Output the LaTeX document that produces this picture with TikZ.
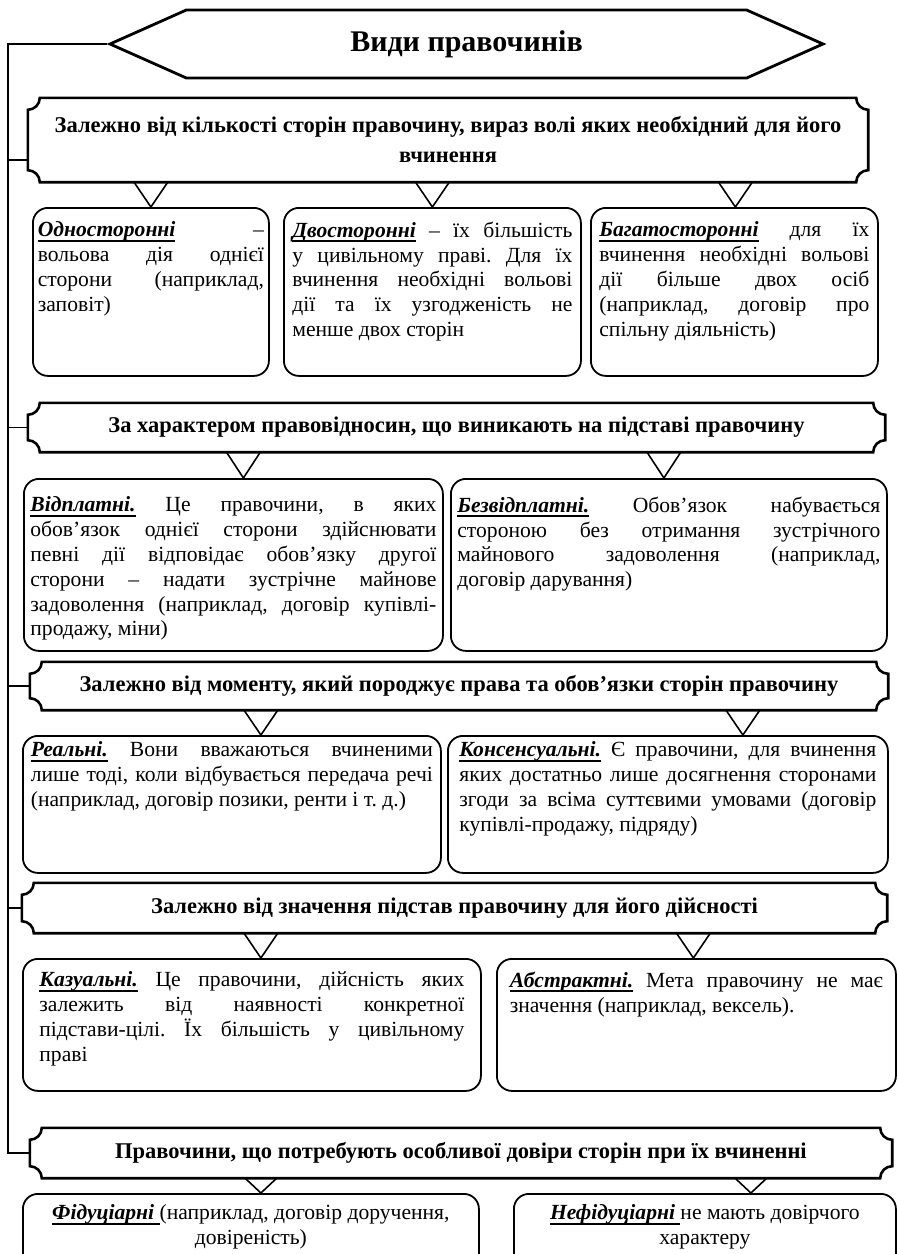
\documentclass[tikz,border=0pt]{standalone}
\usepackage{fontspec}
\setmainfont{Liberation Serif}
\usetikzlibrary{shapes.symbols, calc}
\tikzset{
  head/.style={signal, signal to=west and east, signal pointer angle=48, draw,
               line width=2.8pt, minimum width=713pt, minimum height=68pt, inner sep=0pt,
               font=\fontsize{30}{36}\selectfont\bfseries},
  cat/.style={inner sep=0pt, align=center, font=\fontsize{22.5}{30}\selectfont\bfseries},
  plaque/.style={line width=2.6pt},
  item/.style={draw, line width=1.8pt, rounded corners=15pt, inner sep=0pt, anchor=north west,
               font=\fontsize{21.6}{24.8}\selectfont},
  link/.style={line width=1.6pt},
  tri/.style={line width=1.6pt, line join=miter},
}
\newcommand{\term}[1]{\leavevmode\setbox0=\hbox{\textbf{\textit{#1}}}\rlap{\rule[-5pt]{\wd0}{2pt}}\box0\relax}
\newcommand{\celltxt}[3]{\parbox[c][#1pt][t]{#2pt}{\frenchspacing #3}}
\newcommand{\plaqueframe}[1]{%
  \draw[plaque] ([xshift=12pt]#1.north west) -- ([xshift=-12pt]#1.north east)
    arc[start angle=180, end angle=270, radius=12pt] -- ([yshift=12pt]#1.south east)
    arc[start angle=90, end angle=180, radius=12pt] -- ([xshift=12pt]#1.south west)
    arc[start angle=0, end angle=90, radius=12pt] -- ([yshift=-12pt]#1.north west)
    arc[start angle=270, end angle=360, radius=12pt] -- cycle;}

\begin{document}
\begin{tikzpicture}[x=1pt, y=1pt]
  \useasboundingbox (0,0) rectangle (897,-1254);
  \clip (0,0) rectangle (897,-1254);
  \node[head] (title) at (466.5,-44) {Види правочинів};

  \node[cat, minimum width=840pt, minimum height=84pt] (c1) at (448,-140)
    {Залежно від кількості сторін правочину, вираз волі яких необхідний для його\\ вчинення};
  \node[cat, minimum width=857pt, minimum height=49pt] (c2) at (456.5,-427.5)
    {За характером правовідносин, що виникають на підставі правочину};
  \node[cat, minimum width=858pt, minimum height=48pt] (c3) at (459,-686)
    {Залежно від моменту, який породжує права та обов’язки сторін правочину};
  \node[cat, minimum width=865pt, minimum height=50pt] (c4) at (454.5,-908)
    {Залежно від значення підстав правочину для його дійсності};
  \node[cat, minimum width=862pt, minimum height=50pt] (c5) at (461,-1153)
    {Правочини, що потребують особливої довіри сторін при їх вчиненні};
  \foreach \c in {c1,c2,c3,c4,c5} \plaqueframe{\c};

  \node[item, minimum width=236pt, minimum height=168pt] (r1a) at (32,-207)
    {\celltxt{140}{226}{\term{Односторонні} –\linebreak вольова дія однієї\linebreak
     сторони (наприклад,\linebreak заповіт)}};
  \node[item, minimum width=297pt, minimum height=168pt] (r1b) at (283,-207)
    {\celltxt{140}{280}{\term{Двосторонні} – їх більшість\linebreak у цивільному праві. Для їх\linebreak
     вчинення необхідні вольові\linebreak дії та їх узгодженість не\linebreak менше двох сторін}};
  \node[item, minimum width=287pt, minimum height=168pt] (r1c) at (590,-207)
    {\celltxt{140}{270}{\term{Багатосторонні} для їх\linebreak вчинення необхідні вольові\linebreak
     дії більше двох осіб\linebreak (наприклад, договір про\linebreak спільну діяльність)}};

  \node[item, minimum width=419pt, minimum height=172pt] (r2a) at (23,-478)
    {\celltxt{136}{406}{\term{Відплатні.} Це правочини, в яких\linebreak обов’язок однієї сторони здійснювати\linebreak
     певні дії відповідає обов’язку другої\linebreak сторони – надати зустрічне майнове\linebreak
     задоволення (наприклад, договір купівлі-\linebreak продажу, міни)}};
  \node[item, minimum width=436pt, minimum height=172pt] (r2b) at (450,-478)
    {\celltxt{136}{423}{\term{Безвідплатні.} Обов’язок набувається\linebreak стороною без отримання зустрічного\linebreak
     майнового задоволення (наприклад,\linebreak договір дарування)}};

  \node[item, minimum width=418pt, minimum height=137pt] (r3a) at (22,-735)
    {\celltxt{125}{402}{\term{Реальні.} Вони вважаються вчиненими\linebreak лише тоді, коли відбувається передача речі\linebreak
     (наприклад, договір позики, ренти і т.~д.)}};
  \node[item, minimum width=440pt, minimum height=137pt] (r3b) at (447,-735)
    {\celltxt{125}{417}{\term{Консенсуальні.} Є правочини, для вчинення\linebreak яких достатньо лише досягнення сторонами\linebreak
     згоди за всіма суттєвими умовами (договір\linebreak купівлі-продажу, підряду)}};

  \node[item, minimum width=458pt, minimum height=132pt] (r4a) at (22,-958)
    {\celltxt{106}{425}{\term{Казуальні.} Це правочини, дійсність яких\linebreak залежить від наявності конкретної\linebreak
     підстави-цілі. Їх більшість у цивільному\linebreak праві}};
  \node[item, minimum width=399pt, minimum height=132pt] (r4b) at (496,-958)
    {\celltxt{106}{373}{\term{Абстрактні.} Мета правочину не має\linebreak значення (наприклад, вексель).}};

  \node[item, minimum width=456pt, minimum height=75pt] (r5a) at (22,-1193)
    {\celltxt{53}{430}{\centering\term{Фідуціарні\ }(наприклад, договір доручення,\\ довіреність)}};
  \node[item, minimum width=382pt, minimum height=75pt] (r5b) at (513,-1193)
    {\celltxt{53}{360}{\centering\term{Нефідуціарні\ }не мають довірчого\\ характеру}};

  \foreach \b/\dx/\h/\w in {r1a/0/25/34, r1b/0/25/34, r1c/1/25/34, r2a/10/26/34, r2b/-5/26/34,
      r3a/29/25/34, r3b/75/25/34, r4a/9/25/34, r4b/-3/25/34, r5a/10/15/32, r5b/46/15/32}
    \draw[tri] ([xshift=\dx pt]\b.north) -- ++(-\w/2,\h) -- ++(\w,0) -- cycle;

  \coordinate (spine) at (8,-44);
  \draw[link] (title.west) -- (spine) |- (c5.west);
  \draw[link] (spine) |- ([yshift=-20pt]c1.west);
  \foreach \c in {c2,c3,c4} \draw[link] (spine) |- (\c.west);
\end{tikzpicture}
\end{document}
